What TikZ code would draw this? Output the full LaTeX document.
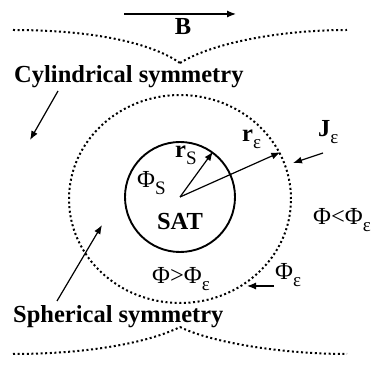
\documentclass[tikz,border=0pt]{standalone}
\usepackage{fontspec}
\setmainfont{Liberation Serif}
\usetikzlibrary{arrows.meta,shapes.geometric}
\newcommand{\lowsub}[1]{\raisebox{-0.28em}{\fontsize{19}{19}\selectfont\mdseries #1}}
\begin{document}
\begin{tikzpicture}[x=1pt,y=-1pt,
  dotline/.style={line width=2pt, dash pattern=on 2pt off 2.6pt},
  arr/.style={line width=1.2pt, -{Latex[length=9pt,width=7pt]}},
  lbl/.style={inner sep=0pt, font=\fontsize{24.5}{28}\selectfont},
  blbl/.style={inner sep=0pt, font=\fontsize{24.5}{28}\selectfont\bfseries}]
\useasboundingbox (0,0) rectangle (376,366);
% field lines
\coordinate (tl) at (13,30);
\coordinate (tc) at (180,63);
\coordinate (tr) at (347,30);
\coordinate (bl) at (13,354);
\coordinate (bc) at (180,327);
\coordinate (br) at (347,354);
\draw[dotline] (tl) .. controls (90,30) and (150,42) .. (tc);
\draw[dotline] (tc) .. controls (212,43) and (280,30) .. (tr);
\draw[dotline] (bl) .. controls (90,354) and (150,342) .. (bc);
\draw[dotline] (bc) .. controls (210,342) and (280,354) .. (br);
% B arrow
\coordinate (b0) at (124,14);
\coordinate (b1) at (236,14);
\draw[arr] (b0) -- (b1);
\node[blbl, anchor=base] (B) at (183,35) {B};
% circles
\node[ellipse, draw, dotline, minimum width=222pt, minimum height=208pt, inner sep=0pt] (eps) at (180,199) {};
\node[circle, draw, line width=1.9pt, minimum size=110pt, inner sep=0pt] (sat) at (180,197) {};
\draw[arr] (sat.center) -- (sat.54);
\draw[arr] (sat.center) -- (eps.25);
% labels
\node[blbl, anchor=base west] (cyl) at (14,83) {Cylindrical symmetry};
\node[blbl, anchor=base west] (sph) at (13,323) {Spherical symmetry};
\node[blbl, anchor=base] (satl) at (180,230) {SAT};
\node[lbl, anchor=base west] (phis) at (137,188) {Φ\lowsub{S}};
\node[blbl, anchor=base west] (rs) at (175,158) {r\lowsub{S}};
\node[blbl, anchor=base west] (re) at (242,142) {r\lowsub{ε}};
\node[blbl, anchor=base west] (je) at (318,137) {J\lowsub{ε}};
\node[lbl, anchor=base west] (out) at (313,225) {Φ<Φ\lowsub{ε}};
\node[lbl, anchor=base west] (in) at (152,284) {Φ>Φ\lowsub{ε}};
\node[lbl, anchor=base west] (pe) at (275,280) {Φ\lowsub{ε}};
% pointer arrows
\coordinate (c0) at (58,91);
\coordinate (c1) at (30,140);
\draw[arr] (c0) -- (c1);
\coordinate (s0) at (57,301);
\coordinate (s1) at (102,225);
\draw[arr] (s0) -- (s1);
\coordinate (j0) at (323,153);
\coordinate (j1) at (293,163);
\draw[arr] (j0) -- (j1);
\coordinate (p0) at (274,286);
\coordinate (p1) at (247,286);
\draw[arr] (p0) -- (p1);
\end{tikzpicture}
\end{document}
